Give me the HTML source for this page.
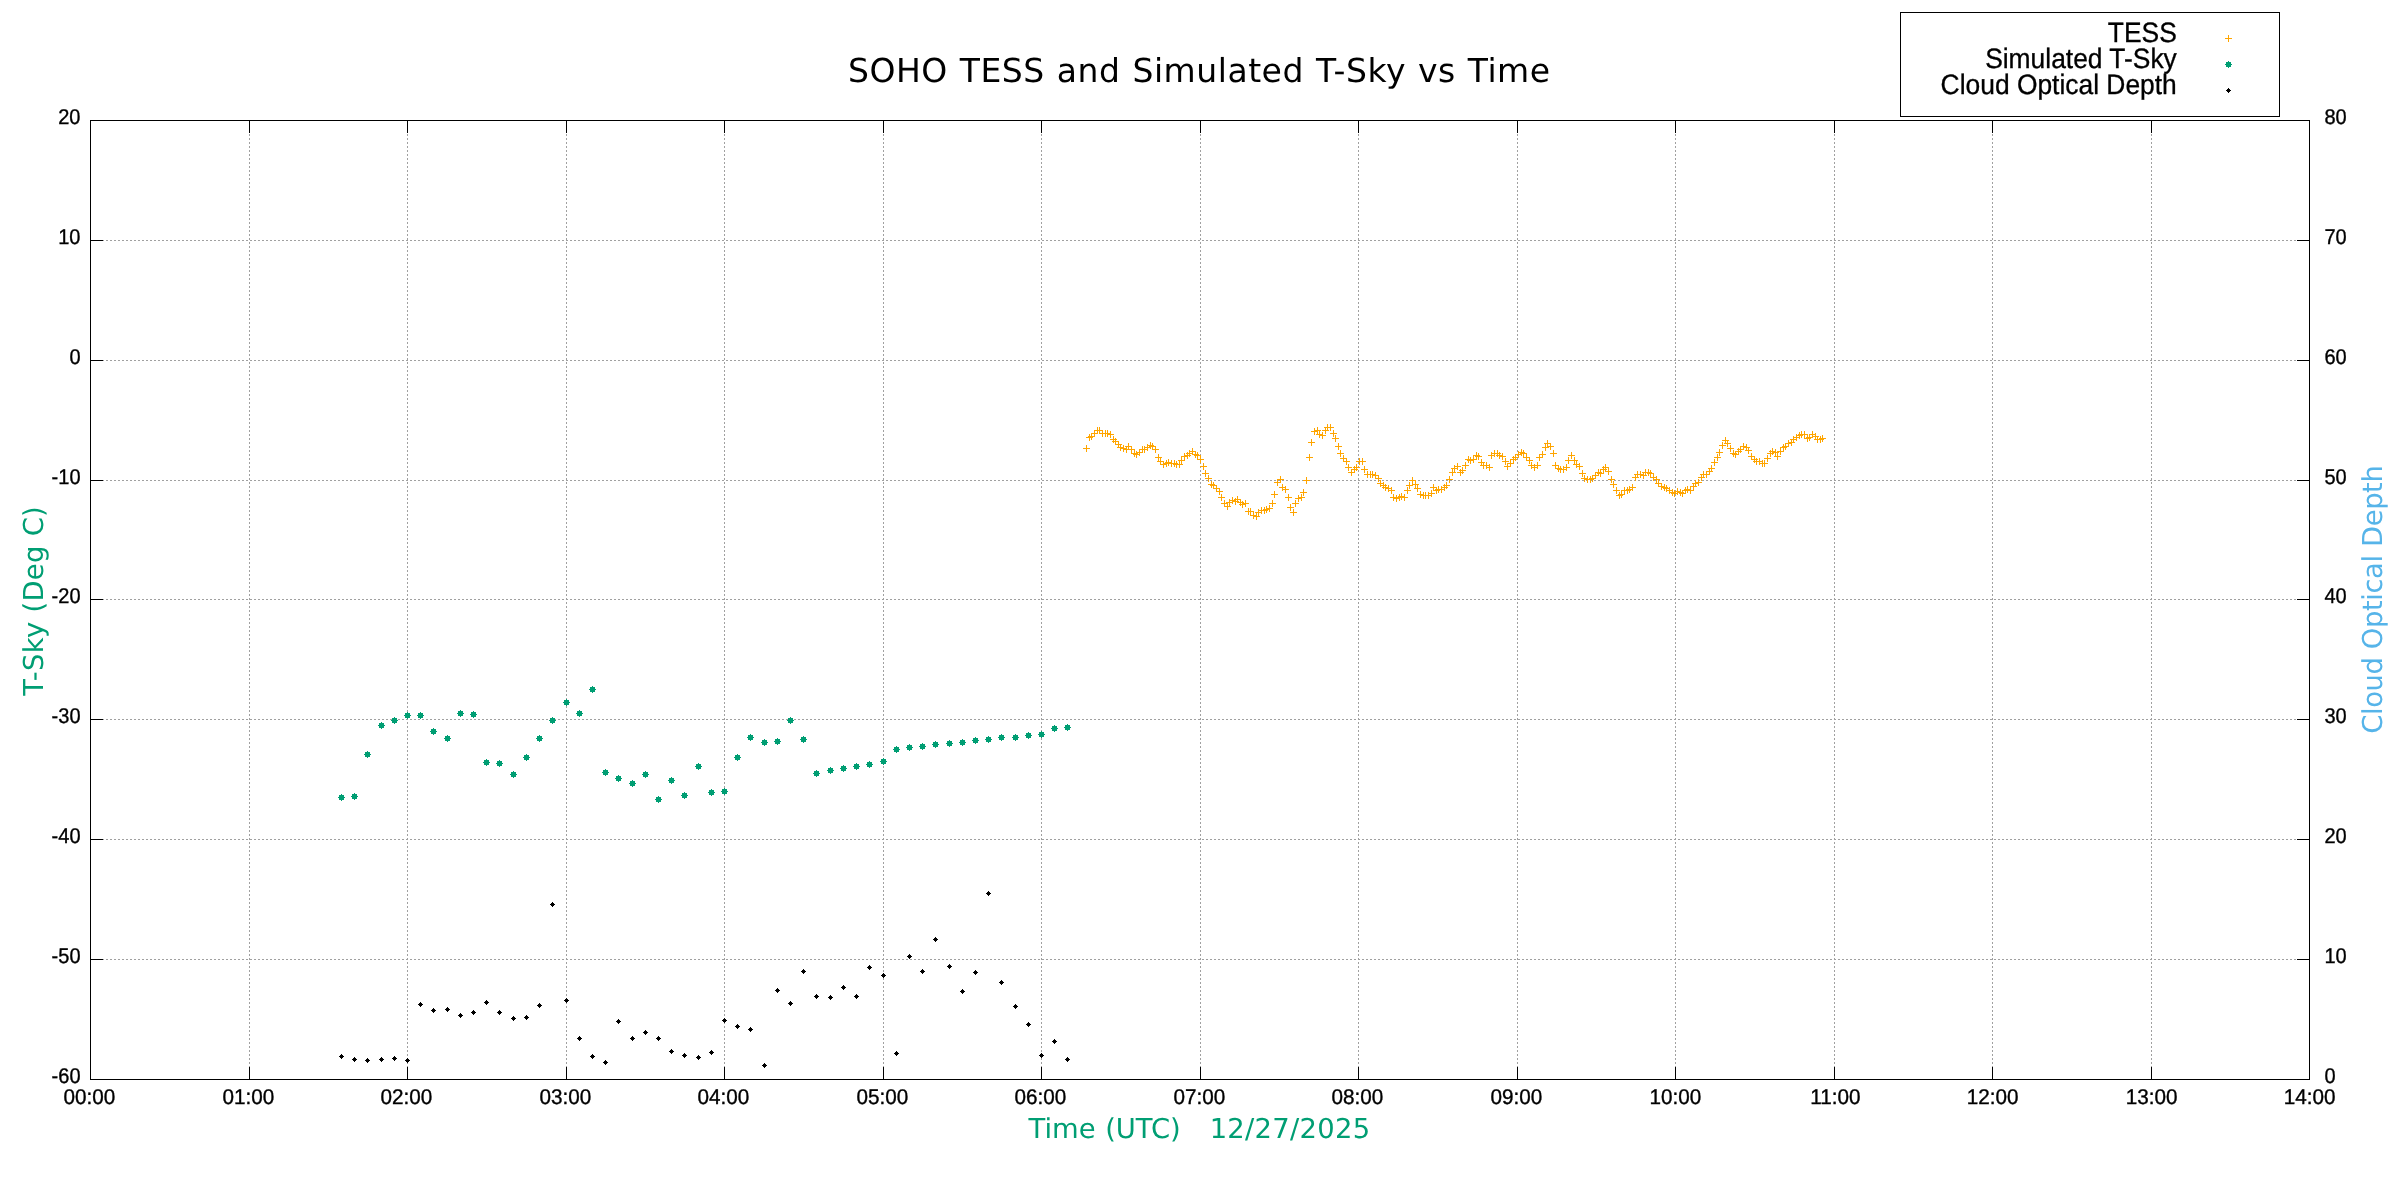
<!DOCTYPE html>
<html lang="en"><head><meta charset="utf-8"><title>SOHO TESS and Simulated T-Sky vs Time</title>
<style>
html,body{margin:0;padding:0;background:#fff;}
body{width:2400px;height:1200px;overflow:hidden;}
svg{display:block;will-change:transform;}
.t{font-family:"Liberation Sans",Arial,sans-serif;font-size:20px;fill:#000;stroke:#000;stroke-width:.35px;}
.k{font-family:"Liberation Sans",Arial,sans-serif;font-size:26.4px;fill:#000;stroke:#000;stroke-width:.3px;}
.v{font-family:"DejaVu Sans",Verdana,sans-serif;}
text{text-rendering:geometricPrecision;}
</style></head><body>
<svg width="2400" height="1200" viewBox="0 0 2400 1200">
<rect width="2400" height="1200" fill="#fff"/>
<defs>
<g id="p"><path d="M-3.5 0H3.5M0 -3.5V3.5" stroke="#FFA500" stroke-width="1" fill="none"/></g>
<g id="g"><path d="M-2.5-2.5h5v5h-5zM-3.5-.5h7v1h-7zM-.5-3.5h1v7h-1z" fill="#009E73"/></g>
<g id="d"><path d="M-.5-2.5h1v1h1v1h1v1h-1v1h-1v1h-1v-1h-1v-1h-1v-1h1v-1h1z" fill="#000"/></g>
</defs>
<g stroke="#a0a0a0" stroke-width="1" stroke-dasharray="2 2" fill="none">
<path d="M90.0 240.5H2309.5"/>
<path d="M90.0 360.5H2309.5"/>
<path d="M90.0 480.5H2309.5"/>
<path d="M90.0 599.5H2309.5"/>
<path d="M90.0 719.5H2309.5"/>
<path d="M90.0 839.5H2309.5"/>
<path d="M90.0 959.5H2309.5"/>
<path d="M249.5 1080.0V120.5"/>
<path d="M407.5 1080.0V120.5"/>
<path d="M566.5 1080.0V120.5"/>
<path d="M724.5 1080.0V120.5"/>
<path d="M883.5 1080.0V120.5"/>
<path d="M1041.5 1080.0V120.5"/>
<path d="M1200.5 1080.0V120.5"/>
<path d="M1358.5 1080.0V120.5"/>
<path d="M1517.5 1080.0V120.5"/>
<path d="M1675.5 1080.0V120.5"/>
<path d="M1834.5 1080.0V120.5"/>
<path d="M1992.5 1080.0V120.5"/>
<path d="M2151.5 1080.0V120.5"/>
</g>
<g stroke="#000" stroke-width="1" fill="none">
<path d="M90.5 240.5h12.5M2309.5 240.5h-12.5"/>
<path d="M90.5 360.5h12.5M2309.5 360.5h-12.5"/>
<path d="M90.5 480.5h12.5M2309.5 480.5h-12.5"/>
<path d="M90.5 599.5h12.5M2309.5 599.5h-12.5"/>
<path d="M90.5 719.5h12.5M2309.5 719.5h-12.5"/>
<path d="M90.5 839.5h12.5M2309.5 839.5h-12.5"/>
<path d="M90.5 959.5h12.5M2309.5 959.5h-12.5"/>
<path d="M249.5 1079.5v-12.5M249.5 120.5v12.5"/>
<path d="M407.5 1079.5v-12.5M407.5 120.5v12.5"/>
<path d="M566.5 1079.5v-12.5M566.5 120.5v12.5"/>
<path d="M724.5 1079.5v-12.5M724.5 120.5v12.5"/>
<path d="M883.5 1079.5v-12.5M883.5 120.5v12.5"/>
<path d="M1041.5 1079.5v-12.5M1041.5 120.5v12.5"/>
<path d="M1200.5 1079.5v-12.5M1200.5 120.5v12.5"/>
<path d="M1358.5 1079.5v-12.5M1358.5 120.5v12.5"/>
<path d="M1517.5 1079.5v-12.5M1517.5 120.5v12.5"/>
<path d="M1675.5 1079.5v-12.5M1675.5 120.5v12.5"/>
<path d="M1834.5 1079.5v-12.5M1834.5 120.5v12.5"/>
<path d="M1992.5 1079.5v-12.5M1992.5 120.5v12.5"/>
<path d="M2151.5 1079.5v-12.5M2151.5 120.5v12.5"/>
<rect x="90.5" y="120.5" width="2219.0" height="959.0"/>
</g>
<g class="t">
<text transform="translate(80.5 124.10) scale(1 1.065)" text-anchor="end">20</text>
<text transform="translate(80.5 244.10) scale(1 1.065)" text-anchor="end">10</text>
<text transform="translate(80.5 364.10) scale(1 1.065)" text-anchor="end">0</text>
<text transform="translate(80.5 484.10) scale(1 1.065)" text-anchor="end">-10</text>
<text transform="translate(80.5 603.10) scale(1 1.065)" text-anchor="end">-20</text>
<text transform="translate(80.5 723.10) scale(1 1.065)" text-anchor="end">-30</text>
<text transform="translate(80.5 843.10) scale(1 1.065)" text-anchor="end">-40</text>
<text transform="translate(80.5 963.10) scale(1 1.065)" text-anchor="end">-50</text>
<text transform="translate(80.5 1083.10) scale(1 1.065)" text-anchor="end">-60</text>
<text transform="translate(2324.5 124.10) scale(1 1.065)">80</text>
<text transform="translate(2324.5 244.10) scale(1 1.065)">70</text>
<text transform="translate(2324.5 364.10) scale(1 1.065)">60</text>
<text transform="translate(2324.5 484.10) scale(1 1.065)">50</text>
<text transform="translate(2324.5 603.10) scale(1 1.065)">40</text>
<text transform="translate(2324.5 723.10) scale(1 1.065)">30</text>
<text transform="translate(2324.5 843.10) scale(1 1.065)">20</text>
<text transform="translate(2324.5 963.10) scale(1 1.065)">10</text>
<text transform="translate(2324.5 1083.10) scale(1 1.065)">0</text>
<text transform="translate(89.4 1103.70) scale(1.035 1.065)" text-anchor="middle">00:00</text>
<text transform="translate(248.4 1103.70) scale(1.035 1.065)" text-anchor="middle">01:00</text>
<text transform="translate(406.4 1103.70) scale(1.035 1.065)" text-anchor="middle">02:00</text>
<text transform="translate(565.4 1103.70) scale(1.035 1.065)" text-anchor="middle">03:00</text>
<text transform="translate(723.4 1103.70) scale(1.035 1.065)" text-anchor="middle">04:00</text>
<text transform="translate(882.4 1103.70) scale(1.035 1.065)" text-anchor="middle">05:00</text>
<text transform="translate(1040.4 1103.70) scale(1.035 1.065)" text-anchor="middle">06:00</text>
<text transform="translate(1199.4 1103.70) scale(1.035 1.065)" text-anchor="middle">07:00</text>
<text transform="translate(1357.4 1103.70) scale(1.035 1.065)" text-anchor="middle">08:00</text>
<text transform="translate(1516.4 1103.70) scale(1.035 1.065)" text-anchor="middle">09:00</text>
<text transform="translate(1675.4 1103.70) scale(1.035 1.065)" text-anchor="middle">10:00</text>
<text transform="translate(1835.4 1103.70) scale(1.035 1.065)" text-anchor="middle">11:00</text>
<text transform="translate(1992.7 1103.70) scale(1.035 1.065)" text-anchor="middle">12:00</text>
<text transform="translate(2151.7 1103.70) scale(1.035 1.065)" text-anchor="middle">13:00</text>
<text transform="translate(2309.7 1103.70) scale(1.035 1.065)" text-anchor="middle">14:00</text>
</g>
<text class="v" x="848" y="82" font-size="33" letter-spacing="0.52" word-spacing="1.0" fill="#000">SOHO TESS and Simulated T-Sky vs Time</text>
<text class="v" x="1028.5" y="1138" font-size="27.4" letter-spacing="0" word-spacing="0.9" fill="#009E73" xml:space="preserve">Time (UTC)   <tspan letter-spacing="0.3">12/27/2025</tspan></text>
<text class="v" transform="translate(42.8 600.8) rotate(-90)" font-size="27.4" letter-spacing="0.3" text-anchor="middle" fill="#009E73">T-Sky (Deg C)</text>
<text class="v" transform="translate(2382.3 599.7) rotate(-90)" font-size="27.4" letter-spacing="-0.4" text-anchor="middle" fill="#56B4E9">Cloud Optical Depth</text>
<rect x="1900.5" y="12.5" width="379" height="104" fill="#fff" stroke="#000" stroke-width="1"/>
<g class="k" text-anchor="end">
<text transform="translate(2176.8 41.9) scale(1 1.06)">TESS</text>
<text transform="translate(2176.8 67.8) scale(1 1.06)">Simulated T-Sky</text>
<text transform="translate(2176.8 93.8) scale(1 1.06)">Cloud Optical Depth</text>
</g>
<use href="#p" x="2228.5" y="38.5"/><use href="#g" x="2228.5" y="64.5"/><use href="#d" x="2228.5" y="90.5"/>
<g>
<use href="#p" x="1086.5" y="448.5"/><use href="#p" x="1089.5" y="437.5"/><use href="#p" x="1091.5" y="436.5"/><use href="#p" x="1094.5" y="433.5"/><use href="#p" x="1097.5" y="430.5"/><use href="#p" x="1099.5" y="430.5"/><use href="#p" x="1102.5" y="433.5"/><use href="#p" x="1105.5" y="433.5"/><use href="#p" x="1107.5" y="433.5"/><use href="#p" x="1110.5" y="434.5"/><use href="#p" x="1113.5" y="439.5"/><use href="#p" x="1115.5" y="441.5"/><use href="#p" x="1118.5" y="444.5"/><use href="#p" x="1120.5" y="447.5"/><use href="#p" x="1123.5" y="448.5"/><use href="#p" x="1126.5" y="449.5"/><use href="#p" x="1128.5" y="446.5"/><use href="#p" x="1131.5" y="449.5"/><use href="#p" x="1134.5" y="453.5"/><use href="#p" x="1136.5" y="454.5"/><use href="#p" x="1139.5" y="452.5"/><use href="#p" x="1142.5" y="449.5"/><use href="#p" x="1144.5" y="449.5"/><use href="#p" x="1147.5" y="447.5"/><use href="#p" x="1150.5" y="445.5"/><use href="#p" x="1152.5" y="446.5"/><use href="#p" x="1155.5" y="449.5"/><use href="#p" x="1158.5" y="457.5"/><use href="#p" x="1160.5" y="461.5"/><use href="#p" x="1163.5" y="464.5"/><use href="#p" x="1166.5" y="463.5"/><use href="#p" x="1168.5" y="462.5"/><use href="#p" x="1171.5" y="463.5"/><use href="#p" x="1174.5" y="463.5"/><use href="#p" x="1176.5" y="464.5"/><use href="#p" x="1179.5" y="464.5"/><use href="#p" x="1181.5" y="460.5"/><use href="#p" x="1184.5" y="456.5"/><use href="#p" x="1187.5" y="455.5"/><use href="#p" x="1189.5" y="453.5"/><use href="#p" x="1192.5" y="451.5"/><use href="#p" x="1195.5" y="454.5"/><use href="#p" x="1197.5" y="455.5"/><use href="#p" x="1200.5" y="459.5"/><use href="#p" x="1203.5" y="466.5"/><use href="#p" x="1205.5" y="473.5"/><use href="#p" x="1208.5" y="478.5"/><use href="#p" x="1211.5" y="484.5"/><use href="#p" x="1213.5" y="485.5"/><use href="#p" x="1216.5" y="488.5"/><use href="#p" x="1219.5" y="491.5"/><use href="#p" x="1221.5" y="497.5"/><use href="#p" x="1224.5" y="503.5"/><use href="#p" x="1227.5" y="506.5"/><use href="#p" x="1229.5" y="502.5"/><use href="#p" x="1232.5" y="500.5"/><use href="#p" x="1235.5" y="501.5"/><use href="#p" x="1237.5" y="499.5"/><use href="#p" x="1240.5" y="502.5"/><use href="#p" x="1242.5" y="504.5"/><use href="#p" x="1245.5" y="503.5"/><use href="#p" x="1248.5" y="511.5"/><use href="#p" x="1250.5" y="511.5"/><use href="#p" x="1253.5" y="515.5"/><use href="#p" x="1256.5" y="516.5"/><use href="#p" x="1258.5" y="512.5"/><use href="#p" x="1261.5" y="510.5"/><use href="#p" x="1264.5" y="510.5"/><use href="#p" x="1266.5" y="509.5"/><use href="#p" x="1269.5" y="508.5"/><use href="#p" x="1272.5" y="503.5"/><use href="#p" x="1274.5" y="494.5"/><use href="#p" x="1277.5" y="482.5"/><use href="#p" x="1280.5" y="479.5"/><use href="#p" x="1282.5" y="487.5"/><use href="#p" x="1285.5" y="489.5"/><use href="#p" x="1288.5" y="497.5"/><use href="#p" x="1290.5" y="507.5"/><use href="#p" x="1293.5" y="512.5"/><use href="#p" x="1295.5" y="503.5"/><use href="#p" x="1298.5" y="498.5"/><use href="#p" x="1301.5" y="497.5"/><use href="#p" x="1303.5" y="492.5"/><use href="#p" x="1306.5" y="480.5"/><use href="#p" x="1309.5" y="457.5"/><use href="#p" x="1311.5" y="442.5"/><use href="#p" x="1314.5" y="431.5"/><use href="#p" x="1317.5" y="430.5"/><use href="#p" x="1319.5" y="434.5"/><use href="#p" x="1322.5" y="435.5"/><use href="#p" x="1325.5" y="430.5"/><use href="#p" x="1327.5" y="427.5"/><use href="#p" x="1330.5" y="427.5"/><use href="#p" x="1333.5" y="433.5"/><use href="#p" x="1335.5" y="438.5"/><use href="#p" x="1338.5" y="446.5"/><use href="#p" x="1340.5" y="453.5"/><use href="#p" x="1343.5" y="458.5"/><use href="#p" x="1346.5" y="461.5"/><use href="#p" x="1348.5" y="467.5"/><use href="#p" x="1351.5" y="472.5"/><use href="#p" x="1354.5" y="469.5"/><use href="#p" x="1356.5" y="467.5"/><use href="#p" x="1359.5" y="461.5"/><use href="#p" x="1362.5" y="461.5"/><use href="#p" x="1364.5" y="469.5"/><use href="#p" x="1367.5" y="474.5"/><use href="#p" x="1370.5" y="474.5"/><use href="#p" x="1372.5" y="474.5"/><use href="#p" x="1375.5" y="475.5"/><use href="#p" x="1378.5" y="478.5"/><use href="#p" x="1380.5" y="483.5"/><use href="#p" x="1383.5" y="485.5"/><use href="#p" x="1385.5" y="487.5"/><use href="#p" x="1388.5" y="488.5"/><use href="#p" x="1391.5" y="490.5"/><use href="#p" x="1393.5" y="497.5"/><use href="#p" x="1396.5" y="498.5"/><use href="#p" x="1399.5" y="497.5"/><use href="#p" x="1401.5" y="496.5"/><use href="#p" x="1404.5" y="497.5"/><use href="#p" x="1407.5" y="490.5"/><use href="#p" x="1409.5" y="485.5"/><use href="#p" x="1412.5" y="480.5"/><use href="#p" x="1415.5" y="484.5"/><use href="#p" x="1417.5" y="488.5"/><use href="#p" x="1420.5" y="494.5"/><use href="#p" x="1423.5" y="495.5"/><use href="#p" x="1425.5" y="495.5"/><use href="#p" x="1428.5" y="495.5"/><use href="#p" x="1431.5" y="493.5"/><use href="#p" x="1433.5" y="487.5"/><use href="#p" x="1436.5" y="490.5"/><use href="#p" x="1438.5" y="489.5"/><use href="#p" x="1441.5" y="489.5"/><use href="#p" x="1444.5" y="487.5"/><use href="#p" x="1446.5" y="485.5"/><use href="#p" x="1449.5" y="479.5"/><use href="#p" x="1452.5" y="472.5"/><use href="#p" x="1454.5" y="468.5"/><use href="#p" x="1457.5" y="466.5"/><use href="#p" x="1460.5" y="472.5"/><use href="#p" x="1462.5" y="470.5"/><use href="#p" x="1465.5" y="465.5"/><use href="#p" x="1468.5" y="459.5"/><use href="#p" x="1470.5" y="460.5"/><use href="#p" x="1473.5" y="459.5"/><use href="#p" x="1476.5" y="455.5"/><use href="#p" x="1478.5" y="456.5"/><use href="#p" x="1481.5" y="462.5"/><use href="#p" x="1483.5" y="465.5"/><use href="#p" x="1486.5" y="465.5"/><use href="#p" x="1489.5" y="467.5"/><use href="#p" x="1491.5" y="455.5"/><use href="#p" x="1494.5" y="453.5"/><use href="#p" x="1497.5" y="453.5"/><use href="#p" x="1499.5" y="455.5"/><use href="#p" x="1502.5" y="456.5"/><use href="#p" x="1505.5" y="461.5"/><use href="#p" x="1507.5" y="466.5"/><use href="#p" x="1510.5" y="463.5"/><use href="#p" x="1513.5" y="459.5"/><use href="#p" x="1515.5" y="457.5"/><use href="#p" x="1518.5" y="454.5"/><use href="#p" x="1521.5" y="452.5"/><use href="#p" x="1523.5" y="453.5"/><use href="#p" x="1526.5" y="457.5"/><use href="#p" x="1529.5" y="460.5"/><use href="#p" x="1531.5" y="465.5"/><use href="#p" x="1534.5" y="467.5"/><use href="#p" x="1537.5" y="465.5"/><use href="#p" x="1539.5" y="457.5"/><use href="#p" x="1542.5" y="454.5"/><use href="#p" x="1545.5" y="447.5"/><use href="#p" x="1547.5" y="443.5"/><use href="#p" x="1550.5" y="446.5"/><use href="#p" x="1553.5" y="453.5"/><use href="#p" x="1555.5" y="465.5"/><use href="#p" x="1558.5" y="468.5"/><use href="#p" x="1560.5" y="469.5"/><use href="#p" x="1563.5" y="469.5"/><use href="#p" x="1566.5" y="467.5"/><use href="#p" x="1568.5" y="460.5"/><use href="#p" x="1571.5" y="455.5"/><use href="#p" x="1574.5" y="460.5"/><use href="#p" x="1576.5" y="464.5"/><use href="#p" x="1579.5" y="466.5"/><use href="#p" x="1582.5" y="473.5"/><use href="#p" x="1584.5" y="478.5"/><use href="#p" x="1587.5" y="479.5"/><use href="#p" x="1590.5" y="479.5"/><use href="#p" x="1592.5" y="478.5"/><use href="#p" x="1595.5" y="475.5"/><use href="#p" x="1598.5" y="472.5"/><use href="#p" x="1600.5" y="473.5"/><use href="#p" x="1603.5" y="469.5"/><use href="#p" x="1605.5" y="467.5"/><use href="#p" x="1608.5" y="471.5"/><use href="#p" x="1611.5" y="479.5"/><use href="#p" x="1613.5" y="484.5"/><use href="#p" x="1616.5" y="490.5"/><use href="#p" x="1619.5" y="495.5"/><use href="#p" x="1621.5" y="494.5"/><use href="#p" x="1624.5" y="490.5"/><use href="#p" x="1627.5" y="490.5"/><use href="#p" x="1629.5" y="489.5"/><use href="#p" x="1632.5" y="487.5"/><use href="#p" x="1635.5" y="477.5"/><use href="#p" x="1637.5" y="474.5"/><use href="#p" x="1640.5" y="474.5"/><use href="#p" x="1643.5" y="475.5"/><use href="#p" x="1645.5" y="472.5"/><use href="#p" x="1648.5" y="472.5"/><use href="#p" x="1650.5" y="473.5"/><use href="#p" x="1653.5" y="477.5"/><use href="#p" x="1656.5" y="479.5"/><use href="#p" x="1658.5" y="483.5"/><use href="#p" x="1661.5" y="486.5"/><use href="#p" x="1664.5" y="487.5"/><use href="#p" x="1666.5" y="488.5"/><use href="#p" x="1669.5" y="490.5"/><use href="#p" x="1672.5" y="492.5"/><use href="#p" x="1674.5" y="493.5"/><use href="#p" x="1677.5" y="491.5"/><use href="#p" x="1680.5" y="492.5"/><use href="#p" x="1682.5" y="493.5"/><use href="#p" x="1685.5" y="490.5"/><use href="#p" x="1687.5" y="489.5"/><use href="#p" x="1690.5" y="490.5"/><use href="#p" x="1693.5" y="486.5"/><use href="#p" x="1695.5" y="483.5"/><use href="#p" x="1698.5" y="482.5"/><use href="#p" x="1701.5" y="477.5"/><use href="#p" x="1703.5" y="474.5"/><use href="#p" x="1706.5" y="474.5"/><use href="#p" x="1709.5" y="471.5"/><use href="#p" x="1711.5" y="468.5"/><use href="#p" x="1714.5" y="462.5"/><use href="#p" x="1717.5" y="457.5"/><use href="#p" x="1719.5" y="452.5"/><use href="#p" x="1722.5" y="445.5"/><use href="#p" x="1725.5" y="440.5"/><use href="#p" x="1727.5" y="443.5"/><use href="#p" x="1730.5" y="448.5"/><use href="#p" x="1733.5" y="453.5"/><use href="#p" x="1735.5" y="454.5"/><use href="#p" x="1738.5" y="451.5"/><use href="#p" x="1740.5" y="449.5"/><use href="#p" x="1743.5" y="446.5"/><use href="#p" x="1746.5" y="447.5"/><use href="#p" x="1748.5" y="450.5"/><use href="#p" x="1751.5" y="456.5"/><use href="#p" x="1754.5" y="459.5"/><use href="#p" x="1756.5" y="461.5"/><use href="#p" x="1759.5" y="461.5"/><use href="#p" x="1762.5" y="463.5"/><use href="#p" x="1764.5" y="463.5"/><use href="#p" x="1767.5" y="458.5"/><use href="#p" x="1770.5" y="453.5"/><use href="#p" x="1772.5" y="451.5"/><use href="#p" x="1775.5" y="452.5"/><use href="#p" x="1777.5" y="456.5"/><use href="#p" x="1780.5" y="451.5"/><use href="#p" x="1783.5" y="447.5"/><use href="#p" x="1785.5" y="446.5"/><use href="#p" x="1788.5" y="443.5"/><use href="#p" x="1791.5" y="442.5"/><use href="#p" x="1793.5" y="439.5"/><use href="#p" x="1796.5" y="437.5"/><use href="#p" x="1799.5" y="435.5"/><use href="#p" x="1801.5" y="434.5"/><use href="#p" x="1804.5" y="434.5"/><use href="#p" x="1807.5" y="438.5"/><use href="#p" x="1809.5" y="437.5"/><use href="#p" x="1812.5" y="434.5"/><use href="#p" x="1815.5" y="436.5"/><use href="#p" x="1817.5" y="439.5"/><use href="#p" x="1820.5" y="439.5"/><use href="#p" x="1822.5" y="438.5"/>
</g><g>
<use href="#g" x="341.5" y="797.5"/><use href="#g" x="354.5" y="796.5"/><use href="#g" x="367.5" y="754.5"/><use href="#g" x="381.5" y="725.5"/><use href="#g" x="394.5" y="720.5"/><use href="#g" x="407.5" y="715.5"/><use href="#g" x="420.5" y="715.5"/><use href="#g" x="433.5" y="731.5"/><use href="#g" x="447.5" y="738.5"/><use href="#g" x="460.5" y="713.5"/><use href="#g" x="473.5" y="714.5"/><use href="#g" x="486.5" y="762.5"/><use href="#g" x="499.5" y="763.5"/><use href="#g" x="513.5" y="774.5"/><use href="#g" x="526.5" y="757.5"/><use href="#g" x="539.5" y="738.5"/><use href="#g" x="552.5" y="720.5"/><use href="#g" x="566.5" y="702.5"/><use href="#g" x="579.5" y="713.5"/><use href="#g" x="592.5" y="689.5"/><use href="#g" x="605.5" y="772.5"/><use href="#g" x="618.5" y="778.5"/><use href="#g" x="632.5" y="783.5"/><use href="#g" x="645.5" y="774.5"/><use href="#g" x="658.5" y="799.5"/><use href="#g" x="671.5" y="780.5"/><use href="#g" x="684.5" y="795.5"/><use href="#g" x="698.5" y="766.5"/><use href="#g" x="711.5" y="792.5"/><use href="#g" x="724.5" y="791.5"/><use href="#g" x="737.5" y="757.5"/><use href="#g" x="750.5" y="737.5"/><use href="#g" x="764.5" y="742.5"/><use href="#g" x="777.5" y="741.5"/><use href="#g" x="790.5" y="720.5"/><use href="#g" x="803.5" y="739.5"/><use href="#g" x="816.5" y="773.5"/><use href="#g" x="830.5" y="770.5"/><use href="#g" x="843.5" y="768.5"/><use href="#g" x="856.5" y="766.5"/><use href="#g" x="869.5" y="764.5"/><use href="#g" x="883.5" y="761.5"/><use href="#g" x="896.5" y="749.5"/><use href="#g" x="909.5" y="747.5"/><use href="#g" x="922.5" y="746.5"/><use href="#g" x="935.5" y="744.5"/><use href="#g" x="949.5" y="743.5"/><use href="#g" x="962.5" y="742.5"/><use href="#g" x="975.5" y="740.5"/><use href="#g" x="988.5" y="739.5"/><use href="#g" x="1001.5" y="737.5"/><use href="#g" x="1015.5" y="737.5"/><use href="#g" x="1028.5" y="735.5"/><use href="#g" x="1041.5" y="734.5"/><use href="#g" x="1054.5" y="728.5"/><use href="#g" x="1067.5" y="727.5"/>
</g><g>
<use href="#d" x="341.5" y="1056.5"/><use href="#d" x="354.5" y="1059.5"/><use href="#d" x="367.5" y="1060.5"/><use href="#d" x="381.5" y="1059.5"/><use href="#d" x="394.5" y="1058.5"/><use href="#d" x="407.5" y="1060.5"/><use href="#d" x="420.5" y="1004.5"/><use href="#d" x="433.5" y="1010.5"/><use href="#d" x="447.5" y="1009.5"/><use href="#d" x="460.5" y="1015.5"/><use href="#d" x="473.5" y="1012.5"/><use href="#d" x="486.5" y="1002.5"/><use href="#d" x="499.5" y="1012.5"/><use href="#d" x="513.5" y="1018.5"/><use href="#d" x="526.5" y="1017.5"/><use href="#d" x="539.5" y="1005.5"/><use href="#d" x="552.5" y="904.5"/><use href="#d" x="566.5" y="1000.5"/><use href="#d" x="579.5" y="1038.5"/><use href="#d" x="592.5" y="1056.5"/><use href="#d" x="605.5" y="1062.5"/><use href="#d" x="618.5" y="1021.5"/><use href="#d" x="632.5" y="1038.5"/><use href="#d" x="645.5" y="1032.5"/><use href="#d" x="658.5" y="1038.5"/><use href="#d" x="671.5" y="1051.5"/><use href="#d" x="684.5" y="1055.5"/><use href="#d" x="698.5" y="1057.5"/><use href="#d" x="711.5" y="1052.5"/><use href="#d" x="724.5" y="1020.5"/><use href="#d" x="737.5" y="1026.5"/><use href="#d" x="750.5" y="1029.5"/><use href="#d" x="764.5" y="1065.5"/><use href="#d" x="777.5" y="990.5"/><use href="#d" x="790.5" y="1003.5"/><use href="#d" x="803.5" y="971.5"/><use href="#d" x="816.5" y="996.5"/><use href="#d" x="830.5" y="997.5"/><use href="#d" x="843.5" y="987.5"/><use href="#d" x="856.5" y="996.5"/><use href="#d" x="869.5" y="967.5"/><use href="#d" x="883.5" y="975.5"/><use href="#d" x="896.5" y="1053.5"/><use href="#d" x="909.5" y="956.5"/><use href="#d" x="922.5" y="971.5"/><use href="#d" x="935.5" y="939.5"/><use href="#d" x="949.5" y="966.5"/><use href="#d" x="962.5" y="991.5"/><use href="#d" x="975.5" y="972.5"/><use href="#d" x="988.5" y="893.5"/><use href="#d" x="1001.5" y="982.5"/><use href="#d" x="1015.5" y="1006.5"/><use href="#d" x="1028.5" y="1024.5"/><use href="#d" x="1041.5" y="1055.5"/><use href="#d" x="1054.5" y="1041.5"/><use href="#d" x="1067.5" y="1059.5"/>
</g>
</svg></body></html>
